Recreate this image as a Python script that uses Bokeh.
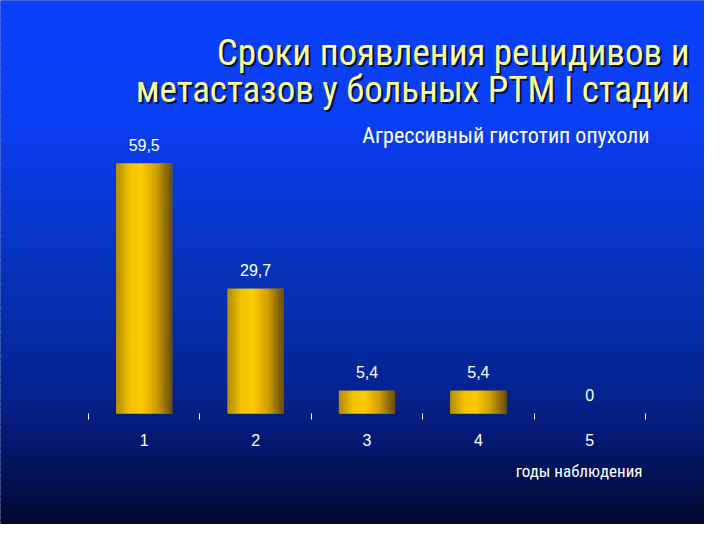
import numpy as np
from bokeh.plotting import figure
from bokeh.models import Label, FixedTicker, ColumnDataSource
from bokeh.embed import file_html
from bokeh.resources import INLINE
from bokeh.core.properties import value

# ---- data ----
years = ["1", "2", "3", "4", "5"]
year_pos = [1, 2, 3, 4, 5]
share = [59.5, 29.7, 5.4, 5.4, 0.0]
share_labels = ["59,5", "29,7", "5,4", "5,4", "0"]
title_lines = ["Сроки появления рецидивов и", "метастазов у больных РТМ I стадии"]
subtitle = "Агрессивный гистотип опухоли"
x_label = "годы наблюдения"

W, H = 704, 524
PX_PER_X = 111.4
PX_PER_Y = 4.2
X0_PX = 88          # screen x of 0.5
Y0_PX = 413         # screen y (from top) of value 0

x_start = 0.5 - X0_PX / PX_PER_X
x_end = x_start + W / PX_PER_X
y_end = Y0_PX / PX_PER_Y
y_start = y_end - H / PX_PER_Y

p = figure(width=W, height=H, x_range=(x_start, x_end), y_range=(y_start, y_end),
           output_backend="svg", toolbar_location=None, min_border=0,
           background_fill_color="#041e80", border_fill_color="#041e80")
p.outline_line_color = None
p.grid.visible = False
p.yaxis.visible = False

# ---- background vertical gradient (bands) ----
stops_y = [0, 130, 200, 260, 330, 400, 450, 500, 540]
stops_c = ["#0a40ff", "#0a3ef2", "#0838d8", "#0634c0", "#052ca8", "#042290", "#031870", "#010e48", "#000520"]
def hex2rgb(h):
    return np.array([int(h[i:i + 2], 16) for i in (1, 3, 5)], float)
sc = np.array([hex2rgb(c) for c in stops_c])
band = 6
tops, bots, cols = [], [], []
for yy in range(0, 540, band):
    mid = yy + band / 2
    rgb = [np.interp(mid, stops_y, sc[:, k]) for k in range(3)]
    cols.append("#%02x%02x%02x" % tuple(int(round(v)) for v in rgb))
    tops.append(y_end - (yy - 8) / PX_PER_Y)
    bots.append(y_end - (yy + band - 8) / PX_PER_Y)
p.quad(left=x_start - 1, right=x_end + 1, top=tops, bottom=bots,
       fill_color=cols, line_color=cols, line_width=1)

# ---- gold bars with horizontal gradient (strips) ----
bar_w = 0.5
p.vbar(x=year_pos, top=share, bottom=0, width=bar_w, fill_color="#e0b000", line_color=None)
n_strips = 28
g_t = [0.0, 0.25, 0.45, 0.72, 1.0]
g_c = ["#b08c00", "#f2c200", "#ffcc00", "#d0a000", "#6a4f00"]
gc = np.array([hex2rgb(c) for c in g_c])
sx, stop, scol = [], [], []
for xp, v in zip(year_pos, share):
    for i in range(n_strips):
        t = (i + 0.5) / n_strips
        rgb = [np.interp(t, g_t, gc[:, k]) for k in range(3)]
        scol.append("#%02x%02x%02x" % tuple(int(round(c)) for c in rgb))
        sx.append(xp - bar_w / 2 + (i + 0.5) * bar_w / n_strips)
        stop.append(v)
src = ColumnDataSource(dict(x=sx, top=stop, c=scol))
p.vbar(x="x", top="top", bottom=0, width=bar_w / n_strips * 1.35, source=src,
       fill_color="c", line_color=None)

# ---- value labels ----
p.text(x=year_pos, y=share, text=share_labels, text_align="center", text_baseline="bottom",
       y_offset=-13, text_color="white", text_font=value("Liberation Sans"), text_font_size="16px")

# ---- x axis placed at 0 ----
ax = p.xaxis[0]
ax.fixed_location = 0
ax.ticker = FixedTicker(ticks=year_pos, minor_ticks=[0.5, 1.5, 2.5, 3.5, 4.5, 5.5])
ax.major_label_overrides = {xp: lab for xp, lab in zip(year_pos, years)}
ax.axis_line_color = None
ax.major_tick_line_color = None
ax.major_tick_out = 0
ax.major_tick_in = 0
ax.minor_tick_line_color = "white"
ax.minor_tick_out = 6
ax.minor_tick_in = 0
ax.major_label_text_color = "white"
ax.major_label_text_font = "Liberation Sans"
ax.major_label_text_font_size = "16px"
ax.major_label_standoff = 14

# ---- titles ----
narrow = "Roboto Condensed"
for txt, yb in zip(title_lines, [472, 435]):
    p.add_layout(Label(x=691, y=yb - 2, x_units="screen", y_units="screen", text=txt,
                       text_align="right", text_baseline="alphabetic", text_color="#00104a",
                       text_font=narrow, text_font_size="37px"))
    p.add_layout(Label(x=689, y=yb, x_units="screen", y_units="screen", text=txt,
                       text_align="right", text_baseline="alphabetic", text_color="#ffff99",
                       text_font=narrow, text_font_size="37px"))
p.add_layout(Label(x=649, y=389, x_units="screen", y_units="screen", text=subtitle,
                   text_align="right", text_baseline="alphabetic", text_color="white",
                   text_font=narrow, text_font_size="22px"))
p.add_layout(Label(x=642, y=54, x_units="screen", y_units="screen", text=x_label,
                   text_align="right", text_baseline="alphabetic", text_color="white",
                   text_font=narrow, text_font_size="17px"))

open("out.html", "w").write(file_html(p, INLINE))
